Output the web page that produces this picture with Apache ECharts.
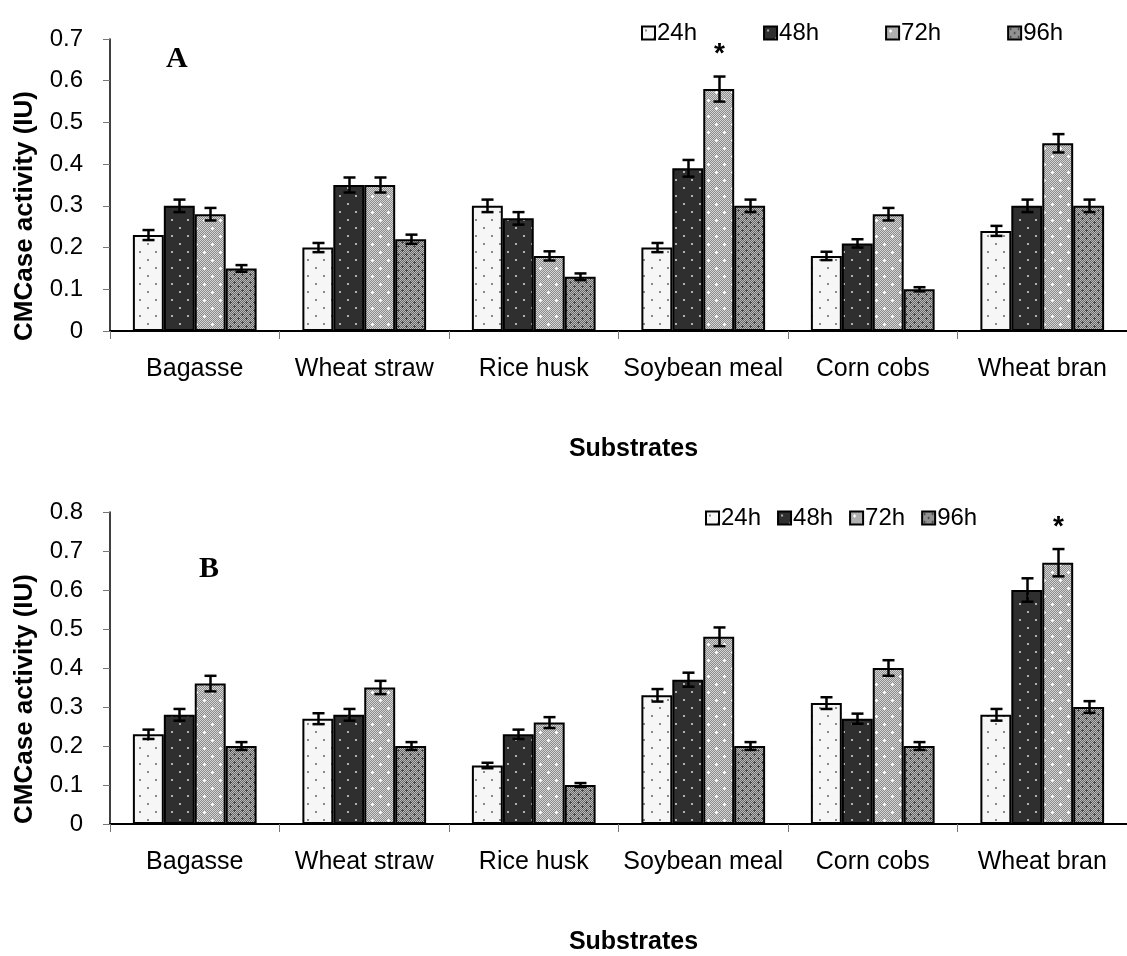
<!DOCTYPE html>
<html>
<head>
<meta charset="utf-8">
<script src="https://cdn.jsdelivr.net/npm/echarts@6/dist/echarts.min.js"></script>
<style>
  html, body { margin: 0; padding: 0; background: #fff; }
  #main { width: 1127px; height: 956px; }
</style>
</head>
<body>
<div id="main"></div>
<script>
var categories = ['Bagasse', 'Wheat straw', 'Rice husk', 'Soybean meal', 'Corn cobs', 'Wheat bran'];
var hours = ['24h', '48h', '72h', '96h'];
var yTicksA = [0, 0.7, 0.1];
var yTicksB = [0, 0.8, 0.1];

// panel A
var a24 = [0.23, 0.20, 0.30, 0.20, 0.18, 0.24];
var a48 = [0.30, 0.35, 0.27, 0.39, 0.21, 0.30];
var a72 = [0.28, 0.35, 0.18, 0.58, 0.28, 0.45];
var a96 = [0.15, 0.22, 0.13, 0.30, 0.10, 0.30];
var aErr24 = [0.012, 0.011, 0.015, 0.011, 0.010, 0.012];
var aErr48 = [0.015, 0.018, 0.015, 0.020, 0.010, 0.015];
var aErr72 = [0.015, 0.018, 0.011, 0.030, 0.015, 0.022];
var aErr96 = [0.008, 0.011, 0.008, 0.015, 0.005, 0.015];
var aStar = ['Soybean meal', '72h'];

// panel B
var b24 = [0.23, 0.27, 0.15, 0.33, 0.31, 0.28];
var b48 = [0.28, 0.28, 0.23, 0.37, 0.27, 0.60];
var b72 = [0.36, 0.35, 0.26, 0.48, 0.40, 0.67];
var b96 = [0.20, 0.20, 0.10, 0.20, 0.20, 0.30];
var bErr24 = [0.012, 0.014, 0.007, 0.016, 0.015, 0.015];
var bErr48 = [0.015, 0.015, 0.012, 0.018, 0.013, 0.030];
var bErr72 = [0.020, 0.017, 0.014, 0.024, 0.020, 0.035];
var bErr96 = [0.010, 0.010, 0.005, 0.010, 0.010, 0.015];
var bStar = ['Wheat bran', '72h'];

var catGap = 0.27;

// fill patterns for the bars
var makeTile = function (size, draw) {
    var c = document.createElement('canvas');
    c.width = size; c.height = size;
    draw(c.getContext('2d'));
    return { image: c, repeat: 'repeat' };
};
var checker = function (ctx, size, c1, c2) {
    for (var i = 0; i < size; i++) {
        for (var j = 0; j < size; j++) {
            ctx.fillStyle = (i + j) % 2 ? c1 : c2;
            ctx.fillRect(i, j, 1, 1);
        }
    }
};
var patterns = [
    makeTile(16, function (ctx) {
        ctx.fillStyle = '#f6f6f6'; ctx.fillRect(0, 0, 16, 16);
        ctx.fillStyle = '#8a8a8a';
        ctx.fillRect(3, 3, 2, 2); ctx.fillRect(11, 11, 2, 2);
    }),
    makeTile(16, function (ctx) {
        ctx.fillStyle = '#2f2f2f'; ctx.fillRect(0, 0, 16, 16);
        ctx.fillStyle = '#b0b0b0';
        ctx.fillRect(3, 3, 2, 2); ctx.fillRect(11, 11, 2, 2);
    }),
    makeTile(16, function (ctx) {
        checker(ctx, 16, '#8c8c8c', '#d4d4d4');
        ctx.fillStyle = '#ffffff';
        ctx.fillRect(3, 4, 3, 1); ctx.fillRect(4, 3, 1, 3);
        ctx.fillRect(11, 12, 3, 1); ctx.fillRect(12, 11, 1, 3);
    }),
    makeTile(8, function (ctx) {
        checker(ctx, 8, '#6a6a6a', '#b8b8b8');
        ctx.fillStyle = '#444';
        ctx.fillRect(1, 2, 3, 1); ctx.fillRect(2, 1, 1, 3);
        ctx.fillRect(5, 6, 3, 1); ctx.fillRect(6, 5, 1, 3);
    })
];

var buildBars = function (vals, gridIdx) {
    return vals.map(function (d, k) {
        return {
            name: hours[k],
            type: 'bar',
            xAxisIndex: gridIdx,
            yAxisIndex: gridIdx,
            data: d,
            barGap: '0%',
            barCategoryGap: (catGap * 100) + '%',
            itemStyle: { color: patterns[k], borderColor: '#000', borderWidth: 2 },
            emphasis: { disabled: true },
            animation: false
        };
    });
};

var buildErrData = function (vals, errs, star) {
    var out = [];
    vals.forEach(function (d, k) {
        d.forEach(function (v, i) {
            var isStar = star[0] === categories[i] && star[1] === hours[k] ? 1 : 0;
            out.push([i, v, k, errs[k][i], isStar]);
        });
    });
    return out;
};

var renderErr = function (params, api) {
    var cat = api.value(0), v = api.value(1), k = api.value(2), e = api.value(3);
    var band = api.size([1, 0])[0];
    var barW = band * (1 - catGap) / 4;
    var c = api.coord([cat, v]);
    var x = Math.round(c[0] + (k - 1.5) * barW) + 0.5;
    var top = api.coord([cat, v + e])[1];
    var bot = api.coord([cat, v - e])[1];
    var st = { stroke: '#000', lineWidth: 2.5 };
    var kids = [
        { type: 'line', shape: { x1: x, y1: top, x2: x, y2: bot }, style: st },
        { type: 'line', shape: { x1: x - 6, y1: top, x2: x + 6, y2: top }, style: st },
        { type: 'line', shape: { x1: x - 6, y1: bot, x2: x + 6, y2: bot }, style: st }
    ];
    if (api.value(4)) {
        // significance marker above the error bar
        kids.push({
            type: 'text',
            style: { text: '*', x: x, y: top - 8, align: 'center', verticalAlign: 'bottom',
                     font: 'bold 28px "Liberation Sans"', fill: '#000' }
        });
    }
    return { type: 'group', children: kids };
};

var errSeries = function (data, gridIdx) {
    return {
        type: 'custom',
        xAxisIndex: gridIdx,
        yAxisIndex: gridIdx,
        renderItem: renderErr,
        encode: { x: 0, y: 1 },
        data: data,
        z: 10,
        silent: true,
        clip: false,
        animation: false
    };
};

var xAxisBase = function (gridIdx) {
    return {
        type: 'category',
        gridIndex: gridIdx,
        data: categories,
        name: 'Substrates',
        nameLocation: 'middle',
        nameGap: 106,
        nameTextStyle: { fontFamily: 'Liberation Sans', fontWeight: 'bold', fontSize: 25, color: '#000',
                         padding: [0, 0, 0, 30] },
        axisLine: { lineStyle: { color: '#000', width: 2 } },
        axisTick: { show: true, interval: 0, length: 8, lineStyle: { color: '#777', width: 1 } },
        axisLabel: { interval: 0, margin: 26, fontFamily: 'Liberation Sans', fontSize: 25, color: '#000' }
    };
};

var yAxisBase = function (gridIdx, ticks) {
    return {
        type: 'value',
        gridIndex: gridIdx,
        min: ticks[0],
        max: ticks[1],
        interval: ticks[2],
        name: 'CMCase activity (IU)',
        nameLocation: 'middle',
        nameGap: 72,
        nameTextStyle: { fontFamily: 'Liberation Sans', fontWeight: 'bold', fontSize: 26, color: '#000',
                         padding: [0, 62, 0, 0] },
        splitLine: { show: false },
        axisLine: { show: true, lineStyle: { color: '#000', width: 1.5 } },
        axisTick: { show: true, length: 7, lineStyle: { color: '#777', width: 1 } },
        axisLabel: { margin: 27, fontFamily: 'Liberation Sans', fontSize: 24, color: '#000',
                     formatter: function (v) { return String(Math.round(v * 10) / 10); } }
    };
};

var legendBase = function (left, top, gap) {
    return {
        left: left,
        top: top,
        itemGap: gap,
        itemWidth: 13,
        itemHeight: 13,
        icon: 'rect',
        selectedMode: false,
        textStyle: { fontFamily: 'Liberation Sans', fontSize: 24, color: '#000', padding: [0, 0, 0, -3] },
        data: hours
    };
};

var chart = echarts.init(document.getElementById('main'), null, { renderer: 'canvas' });
chart.setOption({
    animation: false,
    backgroundColor: '#fff',
    grid: [
        { left: 110, top: 39, width: 1023, height: 292 },
        { left: 110, top: 512, width: 1023, height: 312 }
    ],
    legend: [legendBase(636, 16, 66), legendBase(700, 501, 16)],
    xAxis: [xAxisBase(0), xAxisBase(1)],
    yAxis: [yAxisBase(0, yTicksA), yAxisBase(1, yTicksB)],
    graphic: [
        { type: 'text', left: 166, top: 44, style: { text: 'A', font: 'bold 30px "Liberation Serif"', fill: '#000' } },
        { type: 'text', left: 199, top: 554, style: { text: 'B', font: 'bold 30px "Liberation Serif"', fill: '#000' } }
    ],
    series: buildBars([a24, a48, a72, a96], 0)
        .concat(buildBars([b24, b48, b72, b96], 1))
        .concat([
            errSeries(buildErrData([a24, a48, a72, a96], [aErr24, aErr48, aErr72, aErr96], aStar), 0),
            errSeries(buildErrData([b24, b48, b72, b96], [bErr24, bErr48, bErr72, bErr96], bStar), 1)
        ])
});
</script>
</body>
</html>
